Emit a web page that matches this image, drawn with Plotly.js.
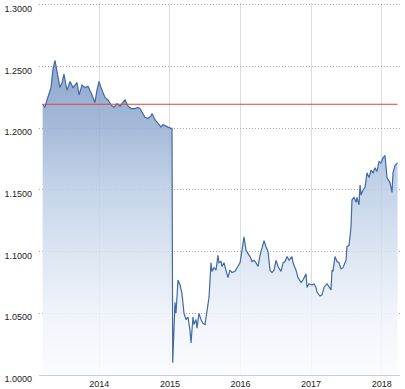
<!DOCTYPE html>
<html>
<head>
<meta charset="utf-8">
<script src="https://cdn.plot.ly/plotly-3.0.1.min.js"></script>
<style>
  html, body { margin: 0; padding: 0; background: #ffffff; }
  #chart { width: 405px; height: 389px; }
</style>
</head>
<body>
<div id="chart"></div>
<script>
// EUR/CHF style series, time as decimal years
const dates = [
  2013.198, 2013.231, 2013.259, 2013.288, 2013.316, 2013.344, 2013.373, 2013.401, 2013.443, 2013.472,
  2013.500, 2013.528, 2013.543, 2013.585, 2013.628, 2013.656, 2013.684, 2013.713, 2013.755, 2013.797,
  2013.840, 2013.882, 2013.911, 2013.939, 2013.967, 2013.996, 2014.024, 2014.038, 2014.081, 2014.123,
  2014.166, 2014.208, 2014.251, 2014.293, 2014.322, 2014.364, 2014.407, 2014.449, 2014.506, 2014.548,
  2014.577, 2014.619, 2014.647, 2014.690, 2014.732, 2014.746, 2014.775, 2014.789, 2014.831, 2014.874,
  2014.902, 2014.931, 2014.973, 2015.016, 2015.030, 2015.040,
  2015.072, 2015.086, 2015.115, 2015.143, 2015.171, 2015.200, 2015.228, 2015.256, 2015.285, 2015.299,
  2015.327, 2015.341, 2015.370, 2015.384, 2015.412, 2015.440, 2015.469, 2015.497, 2015.525, 2015.554,
  2015.582, 2015.596, 2015.625, 2015.653, 2015.681, 2015.695, 2015.724, 2015.738, 2015.766, 2015.795,
  2015.823, 2015.851, 2015.880, 2015.922, 2015.965, 2015.993, 2016.021, 2016.050, 2016.078, 2016.106,
  2016.135, 2016.163, 2016.191, 2016.220, 2016.248, 2016.276, 2016.305, 2016.333, 2016.361, 2016.390,
  2016.418, 2016.446, 2016.474, 2016.503, 2016.531, 2016.574, 2016.602, 2016.630, 2016.659, 2016.687,
  2016.729, 2016.744, 2016.786, 2016.814, 2016.857, 2016.885, 2016.928, 2016.942, 2016.970, 2017.013,
  2017.041, 2017.069, 2017.084, 2017.126, 2017.154, 2017.183, 2017.225, 2017.254, 2017.282, 2017.296,
  2017.310, 2017.338, 2017.367, 2017.395, 2017.423, 2017.452, 2017.494, 2017.508, 2017.537, 2017.565,
  2017.579, 2017.608, 2017.636, 2017.650, 2017.678, 2017.693, 2017.707, 2017.735, 2017.763, 2017.792,
  2017.820, 2017.848, 2017.877, 2017.905, 2017.933, 2017.962, 2017.990, 2018.018, 2018.047, 2018.075,
  2018.103, 2018.118, 2018.146, 2018.160, 2018.188, 2018.224
];
const rates = [
  1.2195, 1.217, 1.223, 1.229, 1.233, 1.248, 1.255, 1.246, 1.233, 1.237,
  1.244, 1.235, 1.231, 1.238, 1.233, 1.235, 1.237, 1.227, 1.235, 1.233,
  1.234, 1.229, 1.225, 1.221, 1.231, 1.238, 1.233, 1.231, 1.225, 1.223,
  1.219, 1.217, 1.220, 1.218, 1.220, 1.223, 1.218, 1.216, 1.216, 1.217,
  1.216, 1.212, 1.209, 1.208, 1.210, 1.212, 1.208, 1.207, 1.204, 1.201,
  1.203, 1.202, 1.201, 1.200, 1.200, 1.010,
  1.059, 1.050, 1.077, 1.073, 1.066, 1.050, 1.045, 1.047, 1.036, 1.026,
  1.047, 1.041, 1.045, 1.038, 1.050, 1.045, 1.042, 1.041, 1.053, 1.063,
  1.091, 1.084, 1.087, 1.085, 1.097, 1.091, 1.092, 1.088, 1.091, 1.085,
  1.079, 1.085, 1.083, 1.084, 1.088, 1.091, 1.101, 1.112, 1.101, 1.099,
  1.096, 1.092, 1.093, 1.091, 1.088, 1.097, 1.104, 1.109, 1.104, 1.100,
  1.085, 1.083, 1.085, 1.093, 1.088, 1.084, 1.091, 1.092, 1.096, 1.093,
  1.096, 1.091, 1.085, 1.079, 1.075, 1.077, 1.082, 1.071, 1.074, 1.073,
  1.074, 1.071, 1.067, 1.064, 1.065, 1.071, 1.074, 1.071, 1.069, 1.085,
  1.084, 1.096, 1.092, 1.091, 1.086, 1.087, 1.093, 1.104, 1.105, 1.120,
  1.142, 1.144, 1.140, 1.144, 1.138, 1.154, 1.146, 1.150, 1.152, 1.164,
  1.160, 1.166, 1.164, 1.168, 1.165, 1.173, 1.172, 1.176, 1.178, 1.160,
  1.157, 1.156, 1.148, 1.164, 1.170, 1.172
];
const baselineDates = [2013.198, 2018.224];
const baselineValues = [1.2195, 1.2195];
const yearTicks = [2014, 2015, 2016, 2017, 2018];
const yearLabels = ['2014', '2015', '2016', '2017', '2018'];
const rateTicks = [1.00, 1.05, 1.10, 1.15, 1.20, 1.25, 1.30];
const rateLabels = ['1.0000', '1.0500', '1.1000', '1.1500', '1.2000', '1.2500', '1.3000'];

const tickFont = { family: 'Liberation Sans, Arial, sans-serif', size: 9, color: '#222222' };

const traces = [
  {
    x: dates, y: rates, type: 'scatter', mode: 'lines',
    line: { color: '#4169a8', width: 1.2 },
    fill: 'tozeroy',
    fillgradient: {
      type: 'vertical', start: 1.0, stop: 1.26,
      colorscale: [
        [0.00, 'rgba(250,251,254,0.85)'],
        [0.19, 'rgba(238,242,249,0.85)'],
        [0.38, 'rgba(214,225,240,0.85)'],
        [0.58, 'rgba(187,204,229,0.85)'],
        [0.77, 'rgba(150,174,210,0.85)'],
        [1.00, 'rgba(120,150,195,0.85)']
      ]
    },
    hoverinfo: 'skip', showlegend: false
  },
  {
    x: baselineDates, y: baselineValues, type: 'scatter', mode: 'lines',
    line: { color: '#d64541', width: 1.2 },
    hoverinfo: 'skip', showlegend: false
  }
];

const layout = {
  width: 405, height: 389,
  margin: { l: 39, r: 5, t: 3, b: 14, pad: 0 },
  paper_bgcolor: '#ffffff', plot_bgcolor: '#ffffff',
  showlegend: false,
  xaxis: {
    type: 'linear', range: [2013.146, 2018.259],
    tickmode: 'array', tickvals: yearTicks, ticktext: yearLabels,
    showgrid: true, gridcolor: '#dcdcdc', gridwidth: 1,
    showline: true, linecolor: '#c8ccd4', linewidth: 1,
    zeroline: false, ticks: '', tickfont: tickFont
  },
  yaxis: {
    range: [1.0, 1.3016],
    tickmode: 'array', tickvals: rateTicks, ticktext: rateLabels,
    showgrid: true, gridcolor: '#a8a8a8', gridwidth: 1, griddash: '1px,2px',
    showline: false, zeroline: false, ticks: '',
    tickfont: tickFont, ticklabelstandoff: 6, ticklabelshift: 4,
    ticklabeloverflow: 'allow'
  }
};

Plotly.newPlot('chart', traces, layout, { displayModeBar: false, staticPlot: true });
</script>
</body>
</html>
